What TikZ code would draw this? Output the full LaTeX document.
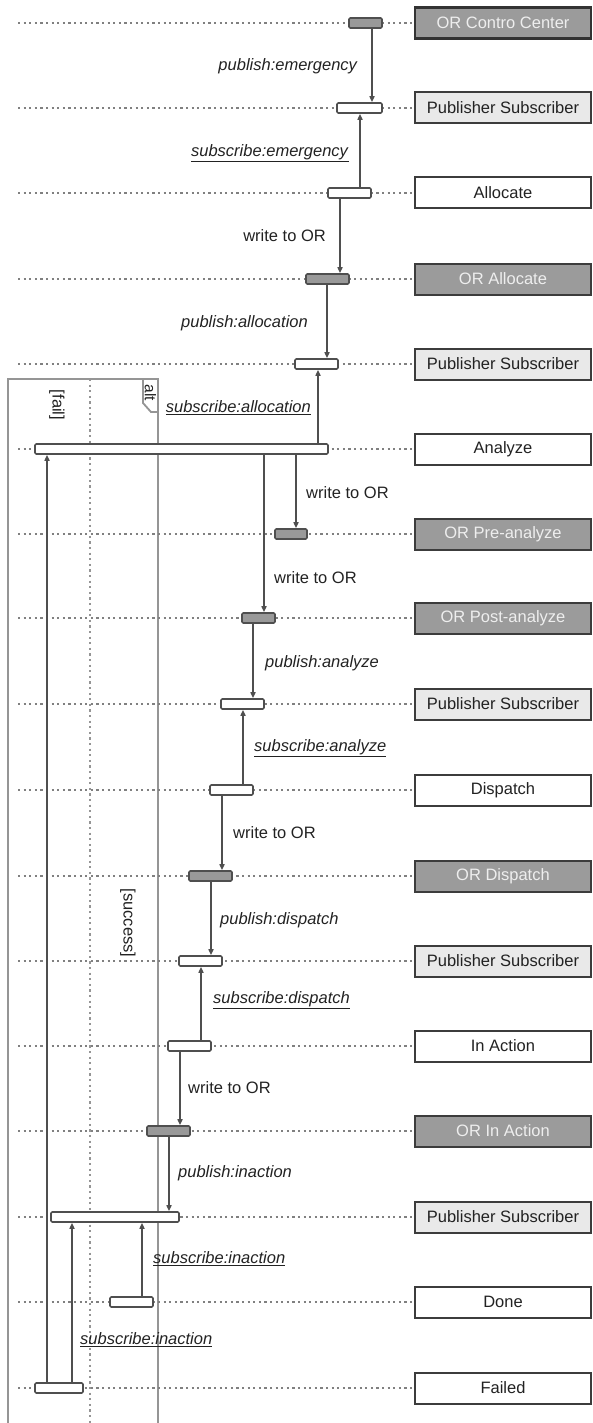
\documentclass[tikz,border=0pt]{standalone}
\usepackage{fontspec}
\setmainfont{Liberation Sans}
\usetikzlibrary{arrows.meta}
\definecolor{linegray}{HTML}{4F4F4F}
\definecolor{dotgray}{HTML}{808080}
\definecolor{framegray}{HTML}{959595}
\definecolor{orfill}{HTML}{9B9B9B}
\definecolor{ortext}{HTML}{EEEEEE}
\definecolor{psfill}{HTML}{E9E9E9}
\definecolor{boxborder}{HTML}{3C3C3C}
\definecolor{bargray}{HTML}{999999}
\definecolor{txt}{HTML}{222222}
\tikzset{
  lifeline/.style={dotgray, line width=2pt, dash pattern=on 2.2pt off 3.4pt},
  sepline/.style={framegray, line width=2pt, dash pattern=on 2.2pt off 3.4pt},
  framestyle/.style={framegray, line width=1.8pt},
  lanebox/.style={draw=boxborder, line width=2pt, minimum width=176pt, minimum height=31pt, inner sep=0pt,
    font=\fontsize{16.5}{19}\selectfont, text=txt},
  orbox/.style={lanebox, fill=orfill, text=ortext},
  psbox/.style={lanebox, fill=psfill},
  whbox/.style={lanebox, fill=white},
  actbar/.style={draw=linegray, line width=1.6pt, rounded corners=1.2pt, minimum height=10pt, inner sep=0pt, fill=white},
  orbar/.style={actbar, fill=bargray},
  msg/.style={draw=linegray, line width=1.6pt, -{Triangle[length=6pt,width=5pt]}},
  lbl/.style={inner sep=0pt, font=\fontsize{16.5}{19}\selectfont, text=txt},
  lbll/.style={lbl, anchor=east},
  lblr/.style={lbl, anchor=west},
  rot/.style={lbl, rotate=-90}
}
\newcommand{\us}[1]{\underline{\textit{#1}}}
\begin{document}
\begin{tikzpicture}[x=1pt,y=-1pt]
\useasboundingbox (0,0) rectangle (593,1423);
% alt frame
\coordinate (ftl) at (8,379);
\coordinate (ftr) at (158,379);
\coordinate (fbl) at (8,1423);
\coordinate (fbr) at (158,1423);
\coordinate (st) at (90,379);
\coordinate (sb) at (90,1423);
\draw[framestyle] (fbl) -- (ftl) -- (ftr) -- (fbr);
\draw[sepline] (st) -- (sb);
\draw[framestyle] (143,379) -- (143,403) -- (151,412) -- (158,412);
\node[rot, font=\fontsize{15.5}{18}\selectfont] (altl) at (150.5,393) {alt};
\node[rot] (faill) at (57,405) {[fail]};
\node[rot] (succl) at (128,923) {[success]};

% lane boxes
\node[orbox, line width=2.6pt, draw=black!80] (l1) at (503,23) {OR Contro Center};
\node[psbox] (l2) at (503,108) {Publisher Subscriber};
\node[whbox] (l3) at (503,193) {Allocate};
\node[orbox] (l4) at (503,279) {OR Allocate};
\node[psbox] (l5) at (503,364) {Publisher Subscriber};
\node[whbox] (l6) at (503,449) {Analyze};
\node[orbox] (l7) at (503,534) {OR Pre-analyze};
\node[orbox] (l8) at (503,618) {OR Post-analyze};
\node[psbox] (l9) at (503,704) {Publisher Subscriber};
\node[whbox] (l10) at (503,790) {Dispatch};
\node[orbox] (l11) at (503,876) {OR Dispatch};
\node[psbox] (l12) at (503,961) {Publisher Subscriber};
\node[whbox] (l13) at (503,1046) {In Action};
\node[orbox] (l14) at (503,1131) {OR In Action};
\node[psbox] (l15) at (503,1217) {Publisher Subscriber};
\node[whbox] (l16) at (503,1302) {Done};
\node[whbox] (l17) at (503,1388) {Failed};

% lifelines
\foreach \i/\yy in {1/23,2/108,3/193,4/279,5/364,6/449,7/534,8/618,9/704,10/790,11/876,12/961,13/1046,14/1131,15/1217,16/1302,17/1388}{
  \coordinate (s\i) at (18,\yy);
  \draw[lifeline] (s\i) -- (l\i.west);
}

% activation bars
\node[orbar, minimum width=33pt] (b1) at (365.5,23) {};
\node[actbar, minimum width=45pt] (b2) at (359.5,108) {};
\node[actbar, minimum width=43pt] (b3) at (349.5,193) {};
\node[orbar, minimum width=43pt] (b4) at (327.5,279) {};
\node[actbar, minimum width=43pt] (b5) at (316.5,364) {};
\node[actbar, minimum width=293pt] (b6) at (181.5,449) {};
\node[orbar, minimum width=32pt] (b7) at (291,534) {};
\node[orbar, minimum width=33pt] (b8) at (258.5,618) {};
\node[actbar, minimum width=43pt] (b9) at (242.5,704) {};
\node[actbar, minimum width=43pt] (b10) at (231.5,790) {};
\node[orbar, minimum width=43pt] (b11) at (210.5,876) {};
\node[actbar, minimum width=43pt] (b12) at (200.5,961) {};
\node[actbar, minimum width=43pt] (b13) at (189.5,1046) {};
\node[orbar, minimum width=43pt] (b14) at (168.5,1131) {};
\node[actbar, minimum width=128pt] (b15) at (115,1217) {};
\node[actbar, minimum width=43pt] (b16) at (131.5,1302) {};
\node[actbar, minimum width=48pt] (b17) at (59,1388) {};

% arrow x positions
\coordinate (a1) at (372,0);
\coordinate (a2) at (360,0);
\coordinate (a3) at (340,0);
\coordinate (a4) at (327,0);
\coordinate (a5) at (318,0);
\coordinate (a6) at (296,0);
\coordinate (a7) at (264,0);
\coordinate (a8) at (253,0);
\coordinate (a9) at (243,0);
\coordinate (a10) at (222,0);
\coordinate (a11) at (211,0);
\coordinate (a12) at (201,0);
\coordinate (a13) at (180,0);
\coordinate (a14) at (169,0);
\coordinate (a15) at (142,0);
\coordinate (a16) at (72,0);
\coordinate (a17) at (47,0);

% messages
\draw[msg] (b1.south -| a1) -- (b2.north -| a1);
\draw[msg] (b3.north -| a2) -- (b2.south -| a2);
\draw[msg] (b3.south -| a3) -- (b4.north -| a3);
\draw[msg] (b4.south -| a4) -- (b5.north -| a4);
\draw[msg] (b6.north -| a5) -- (b5.south -| a5);
\draw[msg] (b6.south -| a6) -- (b7.north -| a6);
\draw[msg] (b6.south -| a7) -- (b8.north -| a7);
\draw[msg] (b8.south -| a8) -- (b9.north -| a8);
\draw[msg] (b10.north -| a9) -- (b9.south -| a9);
\draw[msg] (b10.south -| a10) -- (b11.north -| a10);
\draw[msg] (b11.south -| a11) -- (b12.north -| a11);
\draw[msg] (b13.north -| a12) -- (b12.south -| a12);
\draw[msg] (b13.south -| a13) -- (b14.north -| a13);
\draw[msg] (b14.south -| a14) -- (b15.north -| a14);
\draw[msg] (b16.north -| a15) -- (b15.south -| a15);
\draw[msg] (b17.north -| a16) -- (b15.south -| a16);
\draw[msg] (b17.north -| a17) -- (b6.south -| a17);

% labels
\node[lbll] (m1) at (358,66) {\textit{publish:emergency}};
\node[lbll] (m2) at (349,153) {\us{subscribe:emergency}};
\node[lbll] (m3) at (326,236) {write to OR};
\node[lbll] (m4) at (308,323) {\textit{publish:allocation}};
\node[lbll] (m5) at (311,408) {\us{subscribe:allocation}};
\node[lblr] (m6) at (306,493) {write to OR};
\node[lblr] (m7) at (274,578) {write to OR};
\node[lblr] (m8) at (265,663) {\textit{publish:analyze}};
\node[lblr] (m9) at (254,748) {\us{subscribe:analyze}};
\node[lblr] (m10) at (233,833) {write to OR};
\node[lblr] (m11) at (220,920) {\textit{publish:dispatch}};
\node[lblr] (m12) at (213,1000) {\us{subscribe:dispatch}};
\node[lblr] (m13) at (188,1088) {write to OR};
\node[lblr] (m14) at (178,1173) {\textit{publish:inaction}};
\node[lblr] (m15) at (153,1259) {\us{subscribe:inaction}};
\node[lblr] (m16) at (80,1340) {\us{subscribe:inaction}};
\end{tikzpicture}
\end{document}
